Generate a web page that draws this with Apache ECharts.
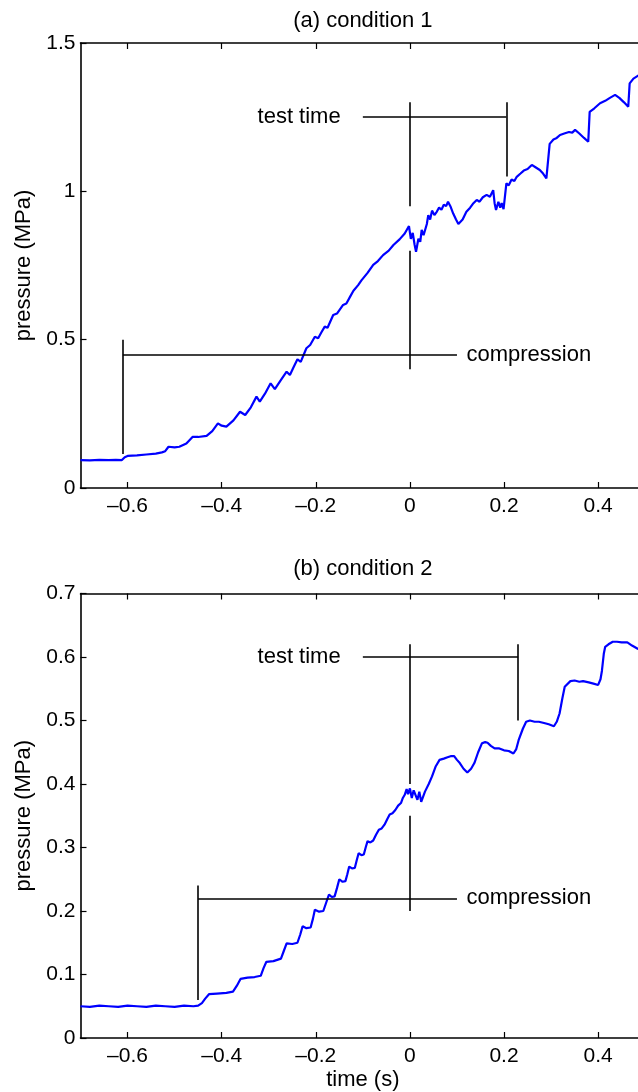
<!DOCTYPE html>
<html>
<head>
<meta charset="utf-8">
<script src="https://cdn.jsdelivr.net/npm/echarts@6/dist/echarts.min.js"></script>
<style>
html,body{margin:0;padding:0;overflow:hidden;background:#fff;}
#chart{width:646px;height:1092px;}
</style>
</head>
<body>
<div id="chart"></div>
<script>
// ---- data ----
const titles = ['(a) condition 1', '(b) condition 2'];
const xTickValues = [-0.6, -0.4, -0.2, 0, 0.2, 0.4];
const xRange = [-0.7, 0.5];
const yRangeA = [0, 1.5];
const yRangeB = [0, 0.7];
const yIntervalA = 0.5;
const yIntervalB = 0.1;

// condition 1 pressure trace [time s, pressure MPa]
const curveA = [
[-0.70,0.094],[-0.68,0.093],[-0.66,0.095],[-0.64,0.094],[-0.625,0.095],[-0.612,0.094],[-0.606,0.104],[-0.60,0.108],
[-0.58,0.110],[-0.56,0.113],[-0.54,0.116],[-0.527,0.120],[-0.52,0.124],[-0.513,0.139],[-0.50,0.137],[-0.49,0.139],
[-0.475,0.150],[-0.462,0.172],[-0.45,0.172],[-0.432,0.176],[-0.42,0.192],[-0.408,0.218],[-0.40,0.210],[-0.39,0.207],
[-0.375,0.228],[-0.361,0.257],[-0.35,0.246],[-0.338,0.272],[-0.326,0.308],[-0.319,0.291],[-0.308,0.318],[-0.296,0.353],
[-0.287,0.333],[-0.275,0.362],[-0.262,0.392],[-0.255,0.381],[-0.247,0.408],[-0.239,0.434],[-0.232,0.425],[-0.22,0.471],
[-0.212,0.482],[-0.202,0.510],[-0.195,0.505],[-0.188,0.525],[-0.181,0.544],[-0.175,0.540],[-0.163,0.583],[-0.155,0.588],
[-0.142,0.617],[-0.135,0.622],[-0.127,0.645],[-0.12,0.665],[-0.11,0.684],[-0.103,0.700],[-0.09,0.725],[-0.078,0.752],
[-0.068,0.765],[-0.057,0.785],[-0.045,0.800],[-0.035,0.819],[-0.022,0.838],[-0.011,0.858],[-0.002,0.883],[0.002,0.840],
[0.006,0.860],[0.010,0.820],[0.013,0.796],[0.018,0.840],[0.022,0.830],[0.025,0.870],[0.029,0.852],[0.032,0.847],
[0.036,0.890],[0.039,0.920],[0.043,0.905],[0.047,0.935],[0.052,0.920],[0.057,0.931],[0.062,0.945],[0.067,0.938],
[0.072,0.955],[0.077,0.950],[0.081,0.965],[0.086,0.950],[0.092,0.925],[0.098,0.905],[0.103,0.890],[0.106,0.886],
[0.112,0.905],[0.12,0.931],[0.128,0.945],[0.135,0.960],[0.142,0.971],[0.148,0.965],[0.155,0.980],[0.163,0.988],
[0.170,0.982],[0.177,1.004],[0.180,0.960],[0.183,0.937],[0.188,0.965],[0.192,0.945],[0.195,0.960],[0.199,0.940],
[0.202,0.943],[0.205,1.027],[0.210,1.020],[0.216,1.040],[0.222,1.035],[0.227,1.049],[0.235,1.060],[0.242,1.070],
[0.250,1.075],[0.259,1.089],[0.266,1.082],[0.276,1.072],[0.283,1.060],[0.29,1.044],[0.294,1.050],[0.297,1.160],
[0.305,1.175],[0.312,1.180],[0.319,1.190],[0.328,1.195],[0.338,1.200],[0.345,1.198],[0.351,1.207],[0.360,1.195],
[0.370,1.180],[0.379,1.167],[0.382,1.268],[0.392,1.280],[0.404,1.297],[0.415,1.305],[0.425,1.315],[0.436,1.325],
[0.445,1.315],[0.455,1.300],[0.464,1.285],[0.467,1.364],[0.475,1.380],[0.485,1.390],[0.495,1.395]
];

// condition 2 pressure trace [time s, pressure MPa]
const curveB = [
[-0.70,0.050],[-0.68,0.049],[-0.66,0.051],[-0.64,0.050],[-0.62,0.049],[-0.60,0.051],[-0.58,0.050],[-0.56,0.049],
[-0.54,0.051],[-0.52,0.050],[-0.50,0.049],[-0.48,0.051],[-0.46,0.050],[-0.45,0.051],[-0.442,0.055],[-0.435,0.062],
[-0.427,0.069],[-0.41,0.070],[-0.39,0.071],[-0.376,0.073],[-0.368,0.082],[-0.36,0.093],[-0.345,0.095],[-0.33,0.096],
[-0.317,0.098],[-0.311,0.110],[-0.305,0.120],[-0.29,0.121],[-0.274,0.125],[-0.268,0.137],[-0.262,0.149],[-0.25,0.148],
[-0.239,0.150],[-0.233,0.163],[-0.228,0.176],[-0.22,0.173],[-0.211,0.174],[-0.206,0.188],[-0.202,0.202],[-0.193,0.199],
[-0.184,0.200],[-0.178,0.213],[-0.172,0.226],[-0.166,0.222],[-0.16,0.223],[-0.155,0.236],[-0.15,0.250],[-0.143,0.246],
[-0.137,0.247],[-0.133,0.258],[-0.129,0.270],[-0.123,0.267],[-0.117,0.268],[-0.113,0.280],[-0.109,0.291],[-0.103,0.288],
[-0.098,0.289],[-0.094,0.300],[-0.09,0.310],[-0.084,0.308],[-0.078,0.311],[-0.072,0.320],[-0.066,0.328],[-0.06,0.330],
[-0.054,0.336],[-0.048,0.345],[-0.043,0.352],[-0.037,0.354],[-0.031,0.359],[-0.025,0.366],[-0.019,0.370],[-0.015,0.378],
[-0.011,0.383],[-0.007,0.392],[-0.004,0.384],[0.0,0.393],[0.004,0.378],[0.008,0.390],[0.012,0.388],[0.016,0.375],
[0.02,0.388],[0.024,0.372],[0.027,0.370],[0.032,0.388],[0.04,0.400],[0.047,0.412],[0.055,0.428],[0.063,0.438],
[0.072,0.440],[0.08,0.442],[0.088,0.444],[0.094,0.444],[0.1,0.438],[0.106,0.433],[0.114,0.424],[0.122,0.418],
[0.13,0.424],[0.137,0.433],[0.145,0.450],[0.153,0.464],[0.16,0.466],[0.165,0.465],[0.172,0.460],[0.18,0.456],
[0.19,0.456],[0.2,0.453],[0.21,0.452],[0.22,0.448],[0.226,0.455],[0.231,0.469],[0.24,0.487],[0.247,0.498],
[0.255,0.500],[0.265,0.498],[0.274,0.498],[0.285,0.496],[0.295,0.494],[0.306,0.491],[0.312,0.498],[0.318,0.511],
[0.324,0.535],[0.329,0.553],[0.341,0.562],[0.35,0.563],[0.36,0.561],[0.368,0.562],[0.38,0.560],[0.39,0.558],
[0.4,0.556],[0.405,0.565],[0.408,0.578],[0.412,0.605],[0.415,0.616],[0.422,0.620],[0.431,0.624],[0.44,0.624],
[0.45,0.623],[0.462,0.623],[0.472,0.618],[0.484,0.613],[0.495,0.610]
];

// annotation brackets (data coordinates)
const bracketsA = [
  [[-0.1,1.25],[0.205,1.25]], [[0,1.30],[0,0.95]], [[0.205,1.30],[0.205,1.05]],
  [[-0.61,0.45],[0.1,0.45]], [[-0.61,0.50],[-0.61,0.115]], [[0,0.80],[0,0.40]]
];
const bracketsB = [
  [[-0.1,0.60],[0.23,0.60]], [[0,0.62],[0,0.40]], [[0.23,0.62],[0.23,0.50]],
  [[-0.45,0.22],[0.1,0.22]], [[-0.45,0.24],[-0.45,0.06]], [[0,0.35],[0,0.20]]
];
const labelsA = [{text:'test time', at:[-0.147,1.25], side:'left'}, {text:'compression', at:[0.12,0.45], side:'right'}];
const labelsB = [{text:'test time', at:[-0.147,0.60], side:'left'}, {text:'compression', at:[0.12,0.22], side:'right'}];
const yName = 'pressure (MPa)';
const xName = 'time (s)';

// ---- chart ----
const FONT = '"Liberation Sans", Arial, Helvetica, sans-serif';
const chart = echarts.init(document.getElementById('chart'), null, {renderer:'canvas'});
const plotW = 564.7;
const grids = [
  {left:80.5, top:43, width:plotW, height:445},
  {left:80.5, top:593.5, width:plotW, height:445.5}
];
function fmtX(v){ return v < 0 ? '\u2013' + String(Math.abs(v)) : String(v); }
const axisLine = {show:true, onZero:false, lineStyle:{color:'#000', width:1.6}};
const tickStyle = {show:true, inside:true, length:6, lineStyle:{color:'#000', width:1.2}};

const xAxes = [], yAxes = [];
[0,1].forEach(i => {
  xAxes.push({
    type:'value', gridIndex:i, position:'bottom', min:xRange[0], max:xRange[1],
    axisLine:axisLine, splitLine:{show:false},
    axisTick:Object.assign({customValues:xTickValues}, tickStyle),
    axisLabel:{customValues:xTickValues, formatter:fmtX, color:'#000', fontSize:21, fontFamily:FONT, margin:8},
    name: i === 1 ? xName : '', nameLocation:'middle', nameGap:31,
    nameTextStyle:{color:'#000', fontSize:22, fontFamily:FONT}
  });
  xAxes.push({
    type:'value', gridIndex:i, position:'top', min:xRange[0], max:xRange[1],
    axisLine:axisLine, splitLine:{show:false},
    axisTick:Object.assign({customValues:xTickValues}, tickStyle),
    axisLabel:{show:false}
  });
  const yr = i === 0 ? yRangeA : yRangeB;
  yAxes.push({
    type:'value', gridIndex:i, position:'left', min:yr[0], max:yr[1], interval: i === 0 ? yIntervalA : yIntervalB,
    axisLine:axisLine, splitLine:{show:false}, axisTick:tickStyle,
    axisLabel:{color:'#000', fontSize:21, fontFamily:FONT, margin:5},
    name:yName, nameLocation:'middle', nameGap:42, nameRotate:90,
    nameTextStyle:{color:'#000', fontSize:22, fontFamily:FONT}
  });
});

const series = [];
[[curveA, bracketsA, labelsA], [curveB, bracketsB, labelsB]].forEach((set, i) => {
  const xi = i * 2;
  series.push({
    type:'line', xAxisIndex:xi, yAxisIndex:i, data:set[0], showSymbol:false, symbol:'none',
    lineStyle:{color:'#0000ff', width:2.2}, z:3
  });
  series.push({
    type:'lines', coordinateSystem:'cartesian2d', xAxisIndex:xi, yAxisIndex:i,
    data:set[1].map(c => ({coords:c})), polyline:false,
    lineStyle:{color:'#000', width:1.6, opacity:1, curveness:0}, z:4
  });
  set[2].forEach(l => {
    series.push({
      type:'scatter', xAxisIndex:xi, yAxisIndex:i, data:[l.at], symbolSize:0.1, z:5,
      itemStyle:{opacity:1},
      label:{show:true, position:l.side, distance:0, formatter:l.text, color:'#000', opacity:1, fontSize:22, fontFamily:FONT}
    });
  });
});

chart.setOption({
  animation:false,
  backgroundColor:'#fff',
  grid:grids,
  xAxis:xAxes,
  yAxis:yAxes,
  series:series,
  graphic:[
    {type:'text', x:80.5 + plotW/2, y:20.5, style:{text:titles[0], align:'center', verticalAlign:'middle', fill:'#000', font:'22px ' + FONT}},
    {type:'text', x:80.5 + plotW/2, y:569, style:{text:titles[1], align:'center', verticalAlign:'middle', fill:'#000', font:'22px ' + FONT}}
  ]
});
</script>
</body>
</html>
